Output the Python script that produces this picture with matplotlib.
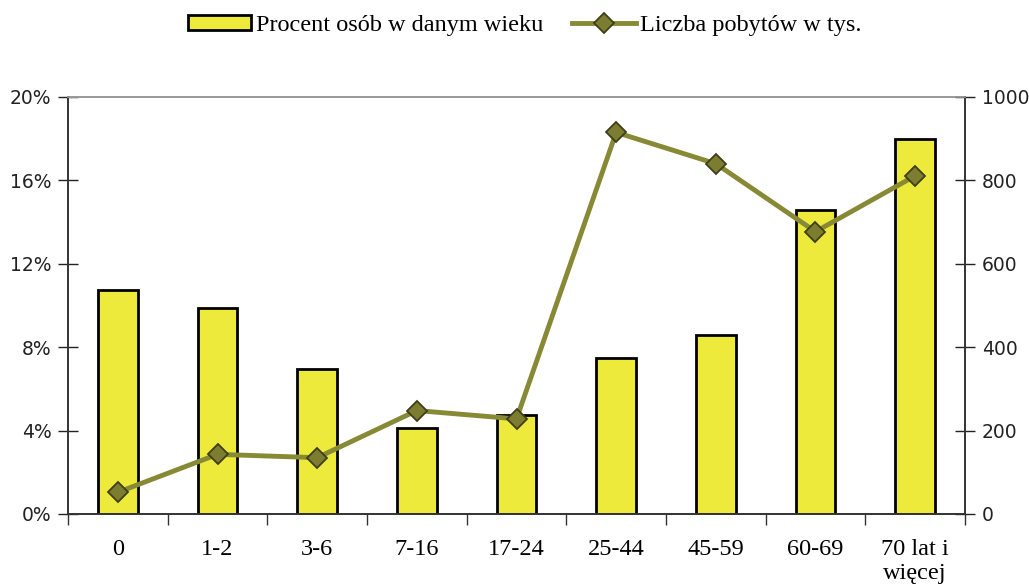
import matplotlib
matplotlib.use('Agg')
import matplotlib.pyplot as plt
from matplotlib.ticker import FuncFormatter, MultipleLocator

# dane
kategorie = ["0", "1-2", "3-6", "7-16", "17-24", "25-44", "45-59", "60-69", "70 lat i\nwięcej"]
procent_osob = [10.75, 9.9, 6.95, 4.1, 4.75, 7.5, 8.6, 14.6, 18.0]
pobyty_tys = [52, 143, 135, 248, 228, 915, 840, 677, 811]

KOLOR_SLUPKA = "#EDEA3C"
KOLOR_LINII = "#878935"
KOLOR_MARKERA = "#7D7D32"
SERIF = "Liberation Serif"

fig = plt.figure(figsize=(10.29, 5.87), dpi=100)
ax = fig.add_axes([0.0661, 0.1244, 0.8717, 0.7104])
ax2 = ax.twinx()

x = list(range(len(kategorie)))
ax.bar(x, procent_osob, width=0.4, color=KOLOR_SLUPKA, edgecolor="black",
       linewidth=2.0, label="Procent osób w danym wieku", zorder=2)
ax2.plot(x, pobyty_tys, color=KOLOR_LINII, linewidth=3.5, marker="D",
         markersize=10, markerfacecolor=KOLOR_MARKERA, markeredgecolor="#3E3E18",
         markeredgewidth=1.3, label="Liczba pobytów w tys.", zorder=3)

ax.set_xlim(-0.5, len(kategorie) - 0.5)
ax.set_ylim(0, 20)
ax2.set_ylim(0, 1000)
ax.yaxis.set_major_locator(MultipleLocator(4))
ax.yaxis.set_major_formatter(FuncFormatter(lambda v, p: f"{v:.0f}%"))
ax2.yaxis.set_major_locator(MultipleLocator(200))

# osie jak w arkuszu: znaczniki przecinające oś
ax.set_xticks([i + 0.5 for i in x[:-1]] + [-0.5, len(kategorie) - 0.5])
ax.set_xticklabels([])
ax.set_xticks(x, minor=True)
ax.set_xticklabels(kategorie, minor=True, fontsize=17.5, family=SERIF)
ax.tick_params(axis="x", which="minor", length=0, pad=18)
ax.tick_params(axis="x", which="major", direction="out", length=8, width=1, color="#333333")
ax.tick_params(axis="y", direction="inout", length=14, width=1, labelsize=13.5,
               colors="#222222", pad=5)
ax2.tick_params(axis="y", direction="inout", length=14, width=1, labelsize=13.5,
                colors="#222222", pad=5)

for a in (ax, ax2):
    for s in ("left", "bottom", "right"):
        a.spines[s].set_color("#333333")
        a.spines[s].set_linewidth(1.2)
    a.spines["top"].set_color("#999999")
    a.spines["top"].set_linewidth(1.2)

uchwyty = ax.get_legend_handles_labels()[0] + ax2.get_legend_handles_labels()[0]
etykiety = ax.get_legend_handles_labels()[1] + ax2.get_legend_handles_labels()[1]
fig.legend(uchwyty, etykiety, loc="upper center", bbox_to_anchor=(0.51, 1.012),
           ncol=2, frameon=False, prop={"family": SERIF, "size": 17.5},
           handlelength=2.6, handleheight=0.6, handletextpad=0.2, columnspacing=1.2)

fig.savefig("out.png", dpi=100)
